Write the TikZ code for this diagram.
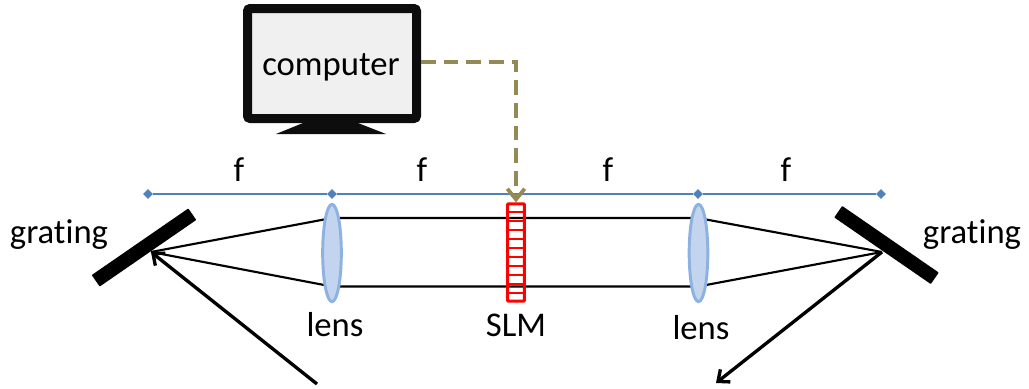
\documentclass[tikz,border=0pt]{standalone}
\usepackage{fontspec}
\setmainfont{Carlito}[Ligatures=NoCommon]
\usepackage{tikz}
\usetikzlibrary{shapes.geometric}
\usetikzlibrary{arrows.meta}
\definecolor{scaleblue}{HTML}{4F81BD}
\definecolor{lensfill}{HTML}{C3D5EE}
\definecolor{lensedge}{HTML}{8DB1E0}
\definecolor{wireolive}{HTML}{948A54}
\begin{document}
\begin{tikzpicture}
    [x=0.75pt, y=-0.75pt,
 textlabel/.style ={font=\fontsize{26}{31}\selectfont, inner sep=0pt},
 screen/.style ={rectangle, draw=black!95, line width=6.75pt, fill=black!6, rounded corners=2pt, minimum width=126.75pt, minimum height=82.5pt, inner sep=0pt},
 lensbody/.style ={ellipse, draw=lensedge, line width=2.2pt, fill=lensfill, minimum width=14pt, minimum height=73pt, inner sep=0pt},
 slmbox/.style ={rectangle, draw=red, line width=2.2pt, minimum width=12.5pt, minimum height=73pt, inner sep=0pt, rounded corners=0.5pt},
 tickmark/.style ={diamond, fill=scaleblue, inner sep=0pt, minimum size=7.5pt},
 ruler/.style ={draw=scaleblue, line width=1pt},
 beam/.style ={draw=black, line width=1.6pt},
 ray/.style ={draw=black, line width=2.5pt, -{Straight Barb[length=7pt,width=12pt,line width=2.5pt]}},
 gratingbar/.style ={rectangle, fill=black, minimum width=88pt, minimum height=10.5pt, inner sep=0pt, rounded corners=0.5pt},
 wire/.style ={draw=wireolive, line width=2.8pt, dash pattern=on 11pt off 6pt, -{Straight Barb[length=8pt,width=13pt,line width=2.8pt]}}]
        \useasboundingbox (0,0) rectangle (1029,389);
        % computer
        \fill[black!95] (276,134) -- (303,123) -- (358,123) -- (386,134) -- cycle;
        \node[screen] (monitor) at (332,63.5) {};
        \node[textlabel] (computer) at (331,67) {computer};
        % ruler along the top
        \node[tickmark] (t1) at (148,194) {};
        \node[tickmark] (t2) at (332,194) {};
        \node[tickmark] (t3) at (698,194) {};
        \node[tickmark] (t4) at (881,194) {};
        \draw[ruler] (t1) -- (t2);
        \draw[ruler] (t2) -- (t3);
        \draw[ruler] (t3) -- (t4);
        \node[textlabel] (f1) at (239,170) {f};
        \node[textlabel] (f2) at (422,170) {f};
        \node[textlabel] (f3) at (608,170) {f};
        \node[textlabel] (f4) at (786,170) {f};
        % gratings
        \node[gratingbar, rotate=34.6] (gratingL) at (144,247.5) {};
        \node[gratingbar, rotate=-34.6] (gratingR) at (886.5,245) {};
        \node[textlabel] (gratingLtext) at (59,235) {grating};
        \node[textlabel] (gratingRtext) at (972,235) {grating};
        \coordinate (focusL) at (151,252);
        \coordinate (focusR) at (882,252);
        \coordinate (inray) at (317,384);
        \coordinate (outray) at (716,383);
        % beams, lenses on top
        \coordinate (l1up) at (332,218);
        \coordinate (l1dn) at (332,286.5);
        \coordinate (l2up) at (698,218);
        \coordinate (l2dn) at (698,286.5);
        \draw[beam] (focusL) -- (l1up) -- (l2up) -- (focusR);
        \draw[beam] (focusL) -- (l1dn) -- (l2dn) -- (focusR);
        \draw[ray] (inray) -- (focusL);
        \draw[ray] (focusR) -- (outray);
        \node[lensbody] (lens1) at (332,253) {};
        \node[lensbody] (lens2) at (698.5,253) {};
        \node[textlabel] (lens1text) at (335,325) {lens};
        \node[textlabel] (lens2text) at (701,328) {lens};
        % slm
        \node[slmbox] (slm) at (516,252.5) {};
        \foreach \i in {1,...,10}
            \draw[red, line width=1.7pt] (507,{203+9*\i}) -- (525,{203+9*\i});
        \node[textlabel] (slmtext) at (516,325) {SLM};
        % link to the slm
        \draw[wire] ([yshift=1.1pt]monitor.east) -| (slm.north);
    \end{tikzpicture}
\end{document}
